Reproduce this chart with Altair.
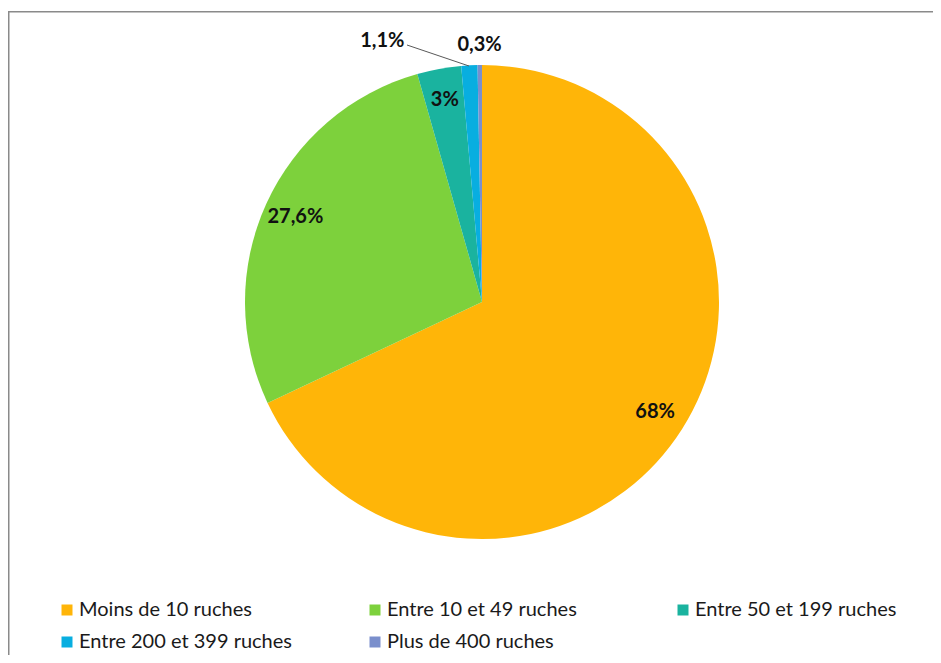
import altair as alt
import pandas as pd

categories = ["Moins de 10 ruches", "Entre 10 et 49 ruches", "Entre 50 et 199 ruches",
              "Entre 200 et 399 ruches", "Plus de 400 ruches"]
values = [68.0, 27.6, 3.0, 1.1, 0.3]
labels = ["68%", "27,6%", "3%", "1,1%", "0,3%"]
colors = ["#FFB508", "#7DD13C", "#1AB39F", "#08AEE0", "#7A8FCC"]

df = pd.DataFrame({"cat": categories, "val": values, "label": labels, "order": list(range(len(categories)))})

W, H = 925, 644
CX, CY = 474, 291

color = alt.Color(
    "cat:N",
    scale=alt.Scale(domain=categories, range=colors),
    sort=categories,
    legend=alt.Legend(
        title=None, orient="none", legendX=49, legendY=589, columns=3, direction="horizontal",
        symbolType="square", symbolSize=121, symbolStrokeWidth=0,
        labelFont="Lato", labelFontSize=20, labelColor="#1a1a1a",
        labelLimit=400, gridAlign="all", columnPadding=73, rowPadding=12,
        labelOffset=2, padding=0,
    ),
)

base = alt.Chart(df).encode(
    theta=alt.Theta("val:Q", stack=True),
    order=alt.Order("order:Q"),
    x=alt.value(CX), y=alt.value(CY),
)

pie = base.mark_arc(outerRadius=237).encode(color=color)

txt = dict(font="Lato", fontSize=20, fontWeight="bold", color="#111111")

inner = base.transform_calculate(t="datum.order < 3 ? datum.label : ''").mark_text(
    radius=205, **txt).encode(text="t:N")
small = base.transform_calculate(t="datum.order == 4 ? datum.label : ''").mark_text(
    radius=257, **txt).encode(text="t:N")
onefive = base.transform_calculate(t="datum.order == 3 ? datum.label : ''").mark_text(
    radius=257, dx=-86, dy=-4, **txt).encode(text="t:N")

one = pd.DataFrame({"k": [0]})
leader = alt.Chart(one).mark_rule(color="#595959", strokeWidth=1).encode(
    x=alt.value(399), y=alt.value(34), x2=alt.value(461), y2=alt.value(55))

frame_left = alt.Chart(one).mark_rule(color="#8a8a8a", strokeWidth=1.5).encode(
    x=alt.value(0.75), y=alt.value(0), y2=alt.value(H))
frame_top = alt.Chart(one).mark_rule(color="#8a8a8a", strokeWidth=1.5).encode(
    x=alt.value(0), x2=alt.value(W + 20), y=alt.value(0.75))

chart = alt.layer(frame_left, frame_top, pie, leader, inner, small, onefive).properties(
    width=W, height=H,
    padding={"left": 0, "top": 3, "right": 0, "bottom": 0},
    autosize=alt.AutoSizeParams(type="none"),
).configure_view(stroke=None)

chart.save("out.html", embed_options={"renderer": "svg", "actions": False})
